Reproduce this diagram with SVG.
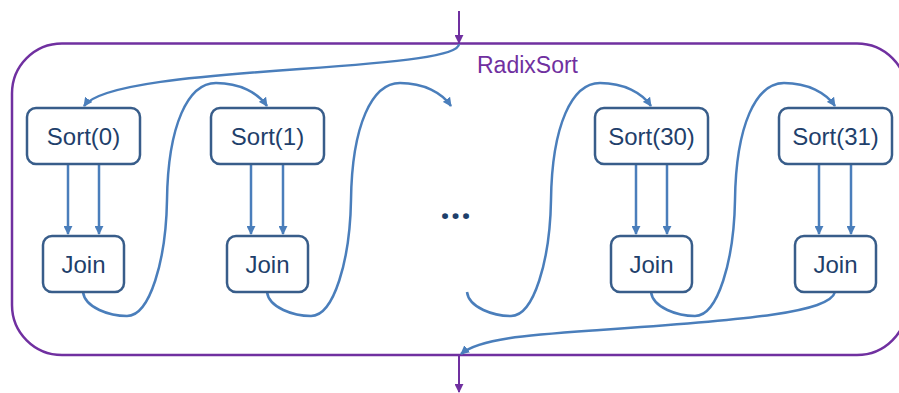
<svg xmlns="http://www.w3.org/2000/svg" width="899" height="393" viewBox="0 0 899 393">
  <style>
    .frame { fill: none; stroke: #7030A0; stroke-width: 2.5; }
    .flow { fill: none; stroke: #7030A0; stroke-width: 2; }
    .box { fill: #FFFFFF; stroke: #385D8A; stroke-width: 2.5; }
    .lbl { font-family: "Liberation Sans", Arial, sans-serif; font-size: 24px; fill: #1F3F6B; text-anchor: middle; }
    .title { font-family: "Liberation Sans", Arial, sans-serif; font-size: 23px; fill: #7030A0; }
    .dots { font-family: "Noto Sans", "Liberation Sans", sans-serif; font-size: 34px; font-weight: bold; fill: #1F3F6B; text-anchor: middle; letter-spacing: 1px; }
    .edge { fill: none; stroke: #4A7EBB; stroke-width: 2.5; }
  </style>
  <defs>
    <marker id="headBlue" viewBox="0 0 10 10" refX="9" refY="5" markerWidth="9" markerHeight="9" markerUnits="userSpaceOnUse" orient="auto">
      <path d="M0,0 L10,5 L0,10 z" fill="#4A7EBB"/>
    </marker>
    <marker id="headPurple" viewBox="0 0 10 10" refX="9" refY="5" markerWidth="9" markerHeight="9" markerUnits="userSpaceOnUse" orient="auto">
      <path d="M0,0 L10,5 L0,10 z" fill="#7030A0"/>
    </marker>
  </defs>

  <!-- RadixSort container -->
  <g id="radixsort">
    <rect class="frame" x="12" y="43.5" width="895" height="311.5" rx="50" ry="50"/>
    <text class="title" x="477" y="73">RadixSort</text>
    <line class="flow" x1="459" y1="11" x2="459" y2="43" marker-end="url(#headPurple)"/>
    <line class="flow" x1="459" y1="355" x2="459" y2="392" marker-end="url(#headPurple)"/>
  </g>

  <!-- connectors -->
  <g id="connectors">
    <!-- entry into first sort -->
    <path class="edge" d="M459,44 C459,56 400,62 300,69 C200,76 100,84 84,106" marker-end="url(#headBlue)"/>
    <!-- sort to join pairs -->
    <line class="edge" x1="68" y1="164" x2="68" y2="234" marker-end="url(#headBlue)"/>
    <line class="edge" x1="99" y1="164" x2="99" y2="234" marker-end="url(#headBlue)"/>
    <line class="edge" x1="251" y1="164" x2="251" y2="234" marker-end="url(#headBlue)"/>
    <line class="edge" x1="283" y1="164" x2="283" y2="234" marker-end="url(#headBlue)"/>
    <line class="edge" x1="636" y1="164" x2="636" y2="234" marker-end="url(#headBlue)"/>
    <line class="edge" x1="667" y1="164" x2="667" y2="234" marker-end="url(#headBlue)"/>
    <line class="edge" x1="819" y1="164" x2="819" y2="234" marker-end="url(#headBlue)"/>
    <line class="edge" x1="851" y1="164" x2="851" y2="234" marker-end="url(#headBlue)"/>
    <!-- join to next sort loops -->
    <path class="edge" d="M83,292 C85,308 110,316 127,316 C150,316 166,260 167,200 C168,125 188,83 216,83 C240,83 258,93 267,106" marker-end="url(#headBlue)"/>
    <path class="edge" d="M267,292 C269,308 294,316 311,316 C334,316 350,260 351,200 C352,125 372,83 400,83 C424,83 442,93 451,106" marker-end="url(#headBlue)"/>
    <path class="edge" d="M467,292 C469,308 494,316 511,316 C534,316 550,260 551,200 C552,125 572,83 600,83 C624,83 642,93 651,106" marker-end="url(#headBlue)"/>
    <path class="edge" d="M651,292 C653,308 678,316 695,316 C718,316 734,260 735,200 C736,125 756,83 784,83 C808,83 826,93 835,106" marker-end="url(#headBlue)"/>
    <!-- exit from last join -->
    <path class="edge" d="M835,292 C830,312 750,320 600,330 C530,335 480,338 461,354" marker-end="url(#headBlue)"/>
  </g>

  <g id="sort0">
    <rect class="box" x="27" y="108" width="113" height="56" rx="9"/>
    <text class="lbl" x="83.5" y="145">Sort(0)</text>
  </g>
  <g id="join0">
    <rect class="box" x="43" y="236" width="81" height="56" rx="9"/>
    <text class="lbl" x="83.5" y="273">Join</text>
  </g>
  <g id="sort1">
    <rect class="box" x="211" y="108" width="113" height="56" rx="9"/>
    <text class="lbl" x="267.5" y="145">Sort(1)</text>
  </g>
  <g id="join1">
    <rect class="box" x="227" y="236" width="81" height="56" rx="9"/>
    <text class="lbl" x="267.5" y="273">Join</text>
  </g>
  <g id="ellipsis">
    <text class="dots" x="456" y="219">...</text>
  </g>
  <g id="sort30">
    <rect class="box" x="595" y="108" width="113" height="56" rx="9"/>
    <text class="lbl" x="651.5" y="145">Sort(30)</text>
  </g>
  <g id="join30">
    <rect class="box" x="611" y="236" width="81" height="56" rx="9"/>
    <text class="lbl" x="651.5" y="273">Join</text>
  </g>
  <g id="sort31">
    <rect class="box" x="779" y="108" width="113" height="56" rx="9"/>
    <text class="lbl" x="835.5" y="145">Sort(31)</text>
  </g>
  <g id="join31">
    <rect class="box" x="795" y="236" width="81" height="56" rx="9"/>
    <text class="lbl" x="835.5" y="273">Join</text>
  </g>
</svg>
